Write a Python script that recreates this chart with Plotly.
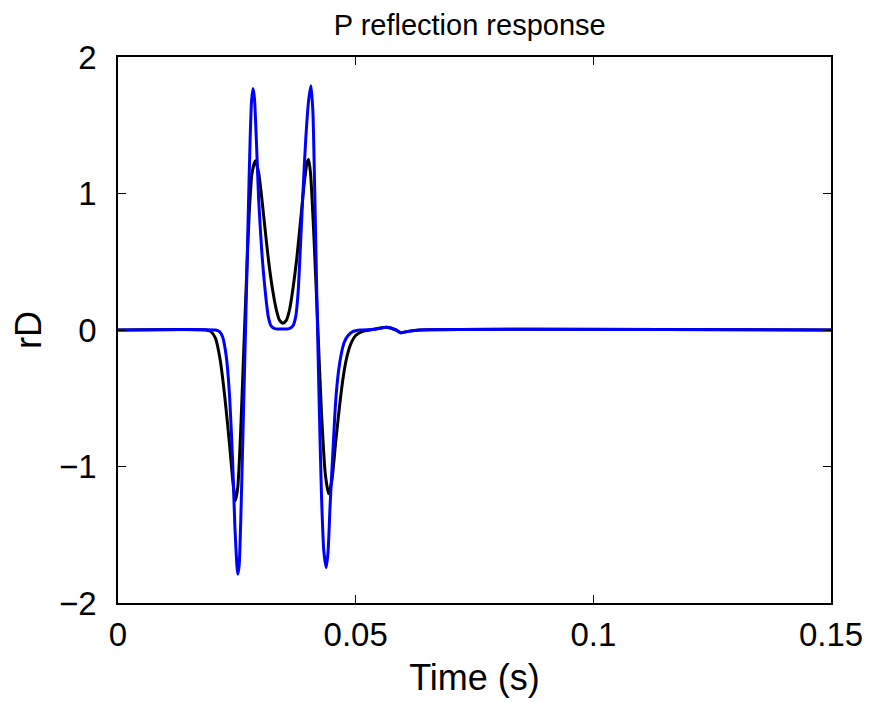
import plotly.graph_objects as go

# Black trace (time in s, amplitude)
black_t = [0.0, 0.0185, 0.0195, 0.0205, 0.0215, 0.0225, 0.0235, 0.0242, 0.0247, 0.0252,
           0.0258, 0.0264, 0.0270, 0.0276, 0.0282, 0.0289, 0.0296, 0.0303, 0.0310, 0.0317,
           0.0325, 0.0333, 0.0340, 0.0347, 0.0354, 0.0361, 0.0368, 0.0376, 0.0384, 0.0392,
           0.0398, 0.0401, 0.0405, 0.0412, 0.0420, 0.0428, 0.0436, 0.0443, 0.0450, 0.0458,
           0.0466, 0.0474, 0.0482, 0.0490, 0.0500, 0.0515, 0.0530, 0.0565, 0.0585, 0.0595,
           0.0610, 0.0635, 0.15]
black_y = [0.0, 0.0, -0.01, -0.06, -0.22, -0.50, -0.85, -1.12, -1.25, -1.15,
           -0.75, -0.20, 0.35, 0.85, 1.15, 1.24, 1.15, 0.95, 0.72, 0.50,
           0.30, 0.15, 0.07, 0.05, 0.07, 0.15, 0.30, 0.52, 0.80, 1.08,
           1.23, 1.25, 1.15, 0.70, 0.05, -0.60, -1.05, -1.20, -1.10, -0.82,
           -0.56, -0.34, -0.19, -0.10, -0.04, -0.01, 0.0, 0.02, 0.0, -0.02,
           -0.01, 0.0, 0.0]

# Blue trace
blue_t = [0.0, 0.0205, 0.0213, 0.0220, 0.0228, 0.0235, 0.0241, 0.0246, 0.0250, 0.0252,
          0.0255, 0.0259, 0.0264, 0.0269, 0.0274, 0.0278, 0.0281, 0.0284, 0.0287, 0.0291,
          0.0296, 0.0302, 0.0306, 0.0311, 0.0316, 0.0322, 0.0330, 0.0360, 0.0368, 0.0374,
          0.0379, 0.0383, 0.0389, 0.0395, 0.0401, 0.0406, 0.0410, 0.0414, 0.0418, 0.0423,
          0.0428, 0.0433, 0.0438, 0.0442, 0.0446, 0.0452, 0.0458, 0.0464, 0.0470, 0.0476,
          0.0484, 0.0495, 0.0510, 0.0540, 0.0565, 0.0585, 0.0595, 0.0610, 0.0635, 0.15]
blue_y = [0.0, 0.0, -0.01, -0.05, -0.20, -0.50, -0.95, -1.45, -1.72, -1.79,
          -1.72, -1.30, -0.60, 0.10, 0.85, 1.40, 1.68, 1.77, 1.70, 1.40,
          0.95, 0.60, 0.42, 0.24, 0.10, 0.03, 0.01, 0.01, 0.03, 0.10,
          0.28, 0.55, 1.00, 1.40, 1.68, 1.79, 1.60, 1.00, 0.30, -0.50,
          -1.20, -1.62, -1.74, -1.62, -1.30, -0.90, -0.52, -0.30, -0.17, -0.09,
          -0.04, -0.01, 0.0, 0.005, 0.02, 0.0, -0.02, -0.01, 0.0, 0.0]

x_ticks = [0, 0.05, 0.1, 0.15]
x_ticktext = ["0", "0.05", "0.1", "0.15"]
y_ticks = [-2, -1, 0, 1, 2]
y_ticktext = ["\u22122", "\u22121", "0", "1", "2"]

FONT = "Liberation Sans, Arial, Helvetica, sans-serif"

fig = go.Figure()
fig.add_trace(go.Scatter(x=black_t, y=black_y, mode="lines",
                         line=dict(color="#000000", width=3, shape="spline", smoothing=0.6),
                         showlegend=False))
fig.add_trace(go.Scatter(x=blue_t, y=blue_y, mode="lines",
                         line=dict(color="#0000ff", width=3, shape="spline", smoothing=0.6),
                         showlegend=False))

fig.update_layout(
    width=863, height=694,
    margin=dict(l=110, r=40, t=49, b=99),
    paper_bgcolor="white", plot_bgcolor="white",
    font=dict(family=FONT, color="black"),
    title=dict(text="P reflection response", x=0.535, xanchor="center",
               y=0.976, yanchor="middle", font=dict(size=29, family=FONT)),
    xaxis=dict(range=[0, 0.15], tickvals=x_ticks, ticktext=x_ticktext,
               ticks="inside", ticklen=8, tickcolor="black", tickwidth=1.2,
               showline=True, linecolor="black", linewidth=1.5, mirror="ticks",
               showgrid=False, zeroline=False, automargin=False,
               tickfont=dict(size=33, family=FONT), ticklabelstandoff=2,
               title=dict(text="Time (s)", font=dict(size=36, family=FONT), standoff=12)),
    yaxis=dict(range=[-2, 2], tickvals=y_ticks, ticktext=y_ticktext,
               ticks="inside", ticklen=8, tickcolor="black", tickwidth=1.2,
               showline=True, linecolor="black", linewidth=1.5, mirror="ticks",
               showgrid=False, zeroline=False, automargin=False,
               tickfont=dict(size=33, family=FONT), ticklabelstandoff=13,
               title=dict(text="rD", font=dict(size=36, family=FONT), standoff=28)),
)

fig.write_html("out.html")
